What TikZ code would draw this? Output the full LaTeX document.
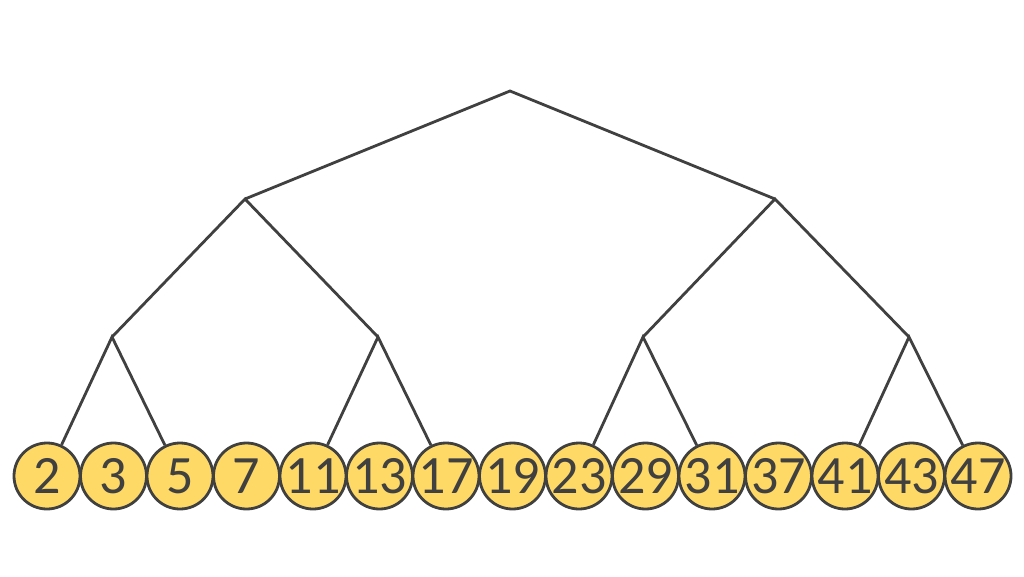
\documentclass[tikz,border=0pt]{standalone}
\usepackage{fontspec}
\setmainfont{Carlito}
\usepackage{tikz}
\definecolor{leafyellow}{HTML}{FFD966}
\definecolor{edgegray}{HTML}{404040}

\begin{document}
\begin{tikzpicture}[x=1pt,y=-1pt,
  leaf/.style={circle,draw=edgegray,fill=leafyellow,line width=2.8pt,
    minimum size=66pt,inner sep=0pt,text=edgegray,
    font=\fontsize{54}{54}\selectfont},
  branch/.style={draw=edgegray,line width=2.8pt}]
\useasboundingbox (0,0) rectangle (1024,576);

\coordinate (root) at (510,91);
\coordinate (l) at (245,199);
\coordinate (r) at (775,199);
\coordinate (ll) at (112,337);
\coordinate (lr) at (378,337);
\coordinate (rl) at (643,337);
\coordinate (rr) at (909,337);

\foreach \v [count=\i] in {2,3,5,7,11,13,17,19,23,29,31,37,41,43,47}
  \node[leaf] (n\i) at ({47+66.5*(\i-1)},476) {\v};

\draw[branch]
(l) -- (root) -- (r)
(ll) -- (l) -- (lr)
(rl) -- (r) -- (rr);

\draw[branch]
(n1) -- (ll) -- (n3)
(n5) -- (lr) -- (n7)
(n9) -- (rl) -- (n11)
(n13) -- (rr) -- (n15);
\end{tikzpicture}
\end{document}
